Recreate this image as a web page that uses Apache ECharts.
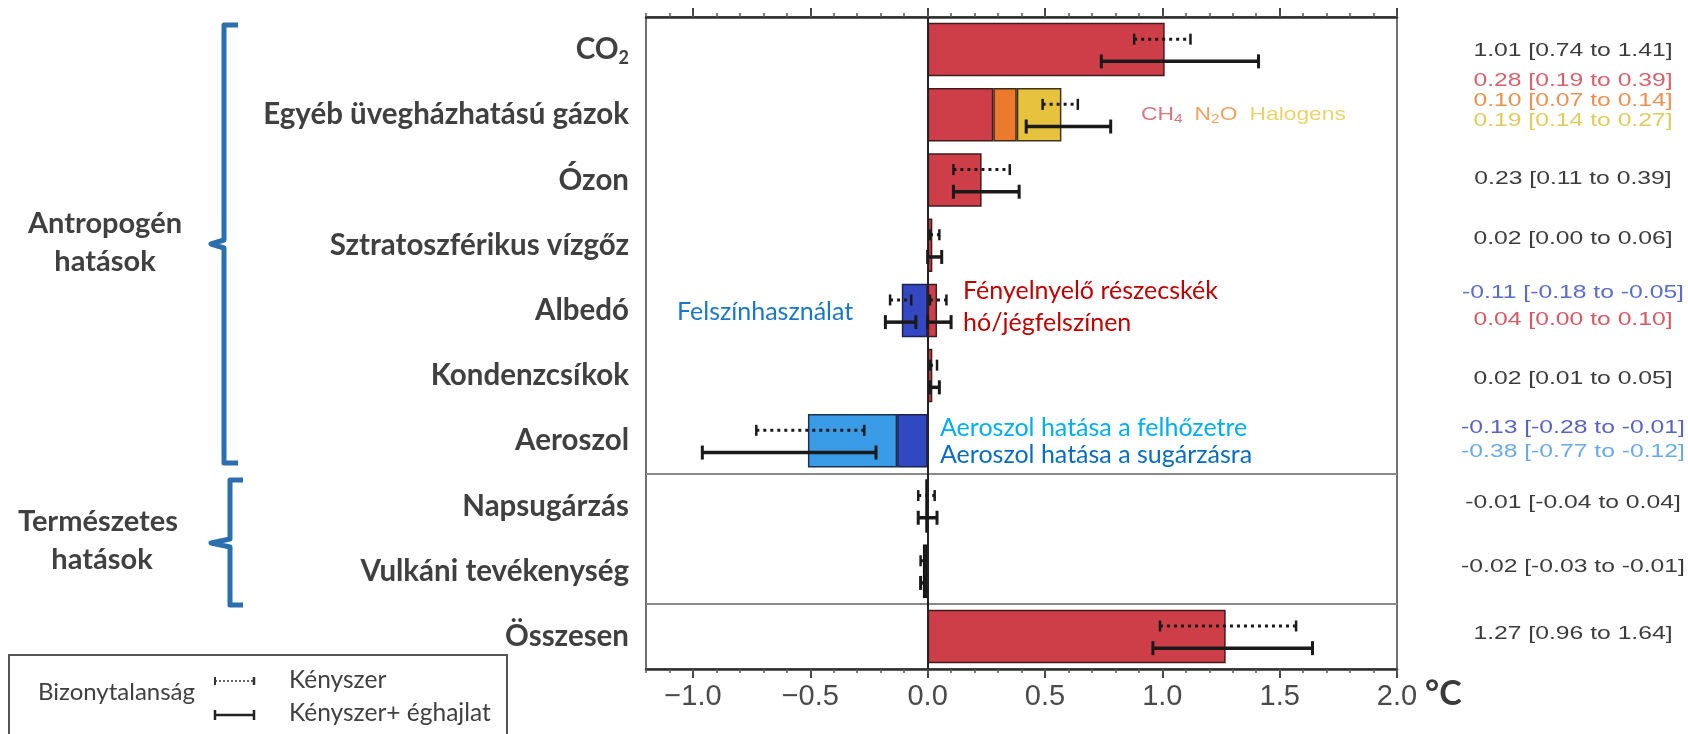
<!DOCTYPE html>
<html>
<head>
<meta charset="utf-8">
<script src="https://cdn.jsdelivr.net/npm/echarts@6/dist/echarts.min.js"></script>
<style>
  html, body { margin: 0; padding: 0; background: #ffffff; }
  #chart { width: 1688px; height: 734px; }
</style>
</head>
<body>
<div id="chart"></div>
<script>
// Sorok (felülről lefelé)
const categories = ['CO2', 'Egyéb üvegházhatású gázok', 'Ózon', 'Sztratoszférikus vízgőz', 'Albedó',
  'Kondenzcsíkok', 'Aeroszol', 'Napsugárzás', 'Vulkáni tevékenység', 'Összesen'];

// Hozzájárulás a melegedéshez (°C) – egy elem egy oszlopszelet
const segmentRow   = [0, 1, 1, 1, 2, 3, 4, 4, 5, 6, 6, 7, 8, 9];
const segmentKind  = ['warm', 'warm', 'n2o', 'halo', 'warm', 'warm', 'land', 'warm', 'warm', 'aerRad', 'aerCloud', 'natural', 'natural', 'warm'];
const segmentValue = [1.01, 0.28, 0.10, 0.19, 0.23, 0.02, -0.11, 0.04, 0.02, -0.13, -0.38, -0.01, -0.02, 1.27];
const segmentLow   = [0.74, 0.19, 0.07, 0.14, 0.11, 0.00, -0.18, 0.00, 0.01, -0.28, -0.77, -0.04, -0.03, 0.96];
const segmentHigh  = [1.41, 0.39, 0.14, 0.27, 0.39, 0.06, -0.05, 0.10, 0.05, -0.01, -0.12, 0.04, -0.01, 1.64];

// Bizonytalansági tartományok: csak kényszer (pontozott) és kényszer + éghajlat (folytonos)
const whiskerRow   = [0, 1, 2, 3, 4, 4, 5, 6, 7, 8, 9];
const forcingLow   = [0.88, 0.49, 0.11, 0.01, -0.16, 0.01, 0.01, -0.73, -0.04, -0.03, 0.99];
const forcingHigh  = [1.12, 0.64, 0.35, 0.05, -0.07, 0.08, 0.04, -0.27, 0.03, -0.01, 1.57];
const responseLow  = [0.74, 0.42, 0.11, 0.00, -0.18, 0.00, 0.01, -0.96, -0.04, -0.03, 0.96];
const responseHigh = [1.41, 0.78, 0.39, 0.06, -0.05, 0.10, 0.05, -0.22, 0.04, -0.01, 1.64];

// Tengelyfeliratok
const tickValues = [-1.0, -0.5, 0.0, 0.5, 1.0, 1.5, 2.0];
// Csoporthatárok (sorindex, amely előtt elválasztó vonal van)
const groupBreaks = [7, 9];

// ---- stílusok ----
const kindOrder = ['warm', 'n2o', 'halo', 'land', 'aerRad', 'aerCloud', 'natural'];
const kindStyle = {
  warm:     { color: '#CD3E48', border: '#3f1c1e' },
  n2o:      { color: '#EC7A2D', border: '#3f2a1c' },
  halo:     { color: '#E6C23E', border: '#3f351c' },
  land:     { color: '#3448C2', border: '#1d2350' },
  aerRad:   { color: '#3048C0', border: '#1d2350' },
  aerCloud: { color: '#3A9BE6', border: '#1d3350' },
  natural:  { color: '#222222', border: '#111111' }
};
const rangeTextColors = ['#3c3c3c', '#d4636d', '#ee9050', '#e0cc5e', '#3c3c3c', '#3c3c3c', '#5a6ccc', '#d45a65',
  '#3c3c3c', '#5a62c4', '#6aaae6', '#3c3c3c', '#3c3c3c', '#3c3c3c'];
const rowTextSpacing = { 1: 20, 4: 27, 6: 23.5 };
const rowTextShift = [1, -14, -1, -6, -4, 3, -1, -3, -4, -3];

const labelGray = '#404040';

function fmtTick(v) {
  return (v < 0 ? '\u2212' : '') + Math.abs(v).toFixed(1);
}
function fmt2(v) {
  return (v < 0 ? '-' : '') + Math.abs(v).toFixed(2);
}

const barSeries = kindOrder.map(function (kind, k) {
  const data = categories.map(function () { return '-'; });
  segmentKind.forEach(function (sk, i) {
    if (sk === kind) data[segmentRow[i]] = segmentValue[i];
  });
  const s = {
    type: 'bar',
    name: kind,
    stack: 'hatas',
    data: data,
    barWidth: '82%',
    itemStyle: { color: kindStyle[kind].color, borderColor: kindStyle[kind].border, borderWidth: 1.5 },
    silent: true,
    z: 2
  };
  if (k === 0) {
    s.markLine = {
      silent: true,
      symbol: 'none',
      label: { show: false },
      lineStyle: { color: '#222222', width: 2, type: 'solid' },
      data: [{ xAxis: 0 }],
      z: 3
    };
  }
  return s;
});

function renderWhisker(params, api) {
  const row = api.value(0);
  const band = api.size([0, 1])[1];
  const yc = api.coord([0, row])[1];
  const yd = yc - band * 0.16;
  const ys = yc + band * 0.18;
  const fl = api.coord([api.value(1), row])[0];
  const fh = api.coord([api.value(2), row])[0];
  const tl = api.coord([api.value(3), row])[0];
  const th = api.coord([api.value(4), row])[0];
  const ink = '#1a1a1a';
  const capD = 5.5, capS = 7;
  return {
    type: 'group',
    children: [
      { type: 'line', shape: { x1: fl, y1: yd, x2: fh, y2: yd }, style: { stroke: ink, lineWidth: 3, lineDash: [3, 4] } },
      { type: 'line', shape: { x1: fl, y1: yd - capD, x2: fl, y2: yd + capD }, style: { stroke: ink, lineWidth: 2.5 } },
      { type: 'line', shape: { x1: fh, y1: yd - capD, x2: fh, y2: yd + capD }, style: { stroke: ink, lineWidth: 2.5 } },
      { type: 'line', shape: { x1: tl, y1: ys, x2: th, y2: ys }, style: { stroke: ink, lineWidth: 3.5 } },
      { type: 'line', shape: { x1: tl, y1: ys - capS, x2: tl, y2: ys + capS }, style: { stroke: ink, lineWidth: 3 } },
      { type: 'line', shape: { x1: th, y1: ys - capS, x2: th, y2: ys + capS }, style: { stroke: ink, lineWidth: 3 } }
    ]
  };
}

const whiskerData = whiskerRow.map(function (r, i) {
  return [r, forcingLow[i], forcingHigh[i], responseLow[i], responseHigh[i]];
});

const axisBase = {
  type: 'value',
  min: -1.2,
  max: 2.0,
  splitLine: { show: false }
};

const option = {
  animation: false,
  backgroundColor: '#ffffff',
  grid: {
    left: 646, right: 291, top: 17, bottom: 65,
    show: true, borderColor: '#707070', borderWidth: 2, backgroundColor: 'transparent'
  },
  xAxis: [
    Object.assign({}, axisBase, {
      position: 'bottom',
      axisLine: { show: true, lineStyle: { color: '#2e2e2e', width: 2.5 } },
      axisTick: { show: true, customValues: tickValues, length: 9, lineStyle: { color: '#444', width: 2 } },
      axisLabel: {
        show: true, customValues: tickValues, margin: 13,
        formatter: fmtTick, color: '#4a4a4a', fontSize: 29, fontFamily: 'Liberation Sans'
      }
    }),
    Object.assign({}, axisBase, {
      position: 'bottom', interval: 0.1,
      axisLine: { show: false },
      axisTick: { show: true, length: 4, lineStyle: { color: '#555', width: 1.5 } },
      axisLabel: { show: false }
    }),
    Object.assign({}, axisBase, {
      position: 'top',
      axisLine: { show: true, lineStyle: { color: '#2e2e2e', width: 2.5 } },
      axisTick: { show: true, customValues: tickValues, length: 9, lineStyle: { color: '#444', width: 2 } },
      axisLabel: { show: false }
    }),
    Object.assign({}, axisBase, {
      position: 'top', interval: 0.1,
      axisLine: { show: false },
      axisTick: { show: true, length: 4, lineStyle: { color: '#555', width: 1.5 } },
      axisLabel: { show: false }
    })
  ],
  yAxis: {
    type: 'category',
    data: categories,
    inverse: true,
    axisLine: { show: false },
    axisTick: { show: false },
    splitLine: {
      show: true,
      interval: function (index) { return groupBreaks.indexOf(index) >= 0; },
      lineStyle: { color: '#8a8a8a', width: 2 }
    },
    axisLabel: {
      margin: 17,
      formatter: function (v) {
        return v === 'CO2' ? '{b|CO}{sub|2}' : '{b|' + v + '}';
      },
      rich: {
        b: { fontFamily: 'Lato', fontWeight: 'bold', fontSize: 29.5, color: labelGray },
        sub: { fontFamily: 'Lato', fontWeight: 'bold', fontSize: 18, color: labelGray, padding: [18, 0, 0, 0] }
      }
    }
  },
  series: barSeries.concat([{
    type: 'custom',
    name: 'whiskers',
    renderItem: renderWhisker,
    encode: { y: 0, x: [1, 2, 3, 4] },
    data: whiskerData,
    silent: true,
    z: 5
  }])
};

const chart = echarts.init(document.getElementById('chart'));
chart.setOption(option);

// ---- szöveges kiegészítések ----
const graphics = [];

// értékek és tartományok a jobb oldalon
const rowLines = {};
segmentRow.forEach(function (r, i) { (rowLines[r] = rowLines[r] || []).push(i); });
Object.keys(rowLines).forEach(function (key) {
  const r = Number(key);
  const lines = rowLines[r];
  const yc = chart.convertToPixel({ yAxisIndex: 0 }, categories[r]) + rowTextShift[r];
  const sp = rowTextSpacing[r] || 25;
  lines.forEach(function (i, k) {
    graphics.push({
      type: 'text',
      x: 1573,
      y: yc + (k - (lines.length - 1) / 2) * sp,
      scaleX: 1.3,
      style: {
        text: fmt2(segmentValue[i]) + ' [' + fmt2(segmentLow[i]) + ' to ' + fmt2(segmentHigh[i]) + ']',
        fill: rangeTextColors[i],
        font: '19px "Liberation Sans"',
        align: 'center',
        verticalAlign: 'middle'
      }
    });
  });
});

// gázok jelmagyarázata
graphics.push({
  type: 'text', x: 1141, y: 115, scaleX: 1.2,
  style: {
    text: '{c|CH}{cs|4}   {n|N}{ns|2}{n|O}   {h|Halogens}',
    verticalAlign: 'middle',
    rich: {
      c: { fill: '#d9767e', font: '19px "Liberation Sans"' },
      cs: { fill: '#d9767e', font: '13px "Liberation Sans"', padding: [9, 0, 0, 0] },
      n: { fill: '#f0a262', font: '19px "Liberation Sans"' },
      ns: { fill: '#f0a262', font: '13px "Liberation Sans"', padding: [9, 0, 0, 0] },
      h: { fill: '#ead36c', font: '19px "Liberation Sans"' }
    }
  }
});

function note(text, x, y, color) {
  graphics.push({
    type: 'text', x: x, y: y,
    style: { text: text, fill: color, font: '25px Lato', verticalAlign: 'middle' }
  });
}
note('Felszínhasználat', 677, 312, '#1a76c8');
note('Fényelnyelő részecskék', 963, 291, '#c00000');
note('hó/jégfelszínen', 963, 323, '#c00000');
note('Aeroszol hatása a felhőzetre', 940, 428, '#00aef0');
note('Aeroszol hatása a sugárzásra', 940, 455, '#0a6cc0');

// mértékegység
graphics.push({
  type: 'text', x: 1425, y: 694,
  style: { text: '°C', fill: '#3a3a3a', font: 'bold 34px Lato', verticalAlign: 'middle' }
});

// csoportok kapcsos zárójelei
function brace(x, top, mid, bottom, hook, tip) {
  graphics.push({
    type: 'polyline',
    shape: { points: [[x + hook, top], [x, top], [x, mid - 4], [tip, mid], [x, mid + 4], [x, bottom], [x + hook, bottom]] },
    style: { stroke: '#2a6fae', lineWidth: 5, fill: null, lineJoin: 'round' }
  });
}
brace(224, 25, 244, 463, 14, 211);
brace(230, 480, 543, 605, 13, 211);

function groupLabel(text, x, y) {
  graphics.push({
    type: 'text', x: x, y: y,
    style: { text: text, fill: labelGray, font: 'bold 29px Lato', align: 'center', verticalAlign: 'middle' }
  });
}
groupLabel('Antropogén', 105, 224);
groupLabel('hatások', 105, 262);
groupLabel('Természetes', 98, 522);
groupLabel('hatások', 102, 560);

// bizonytalanság jelmagyarázata
graphics.push({
  type: 'rect', shape: { x: 9, y: 655, width: 498, height: 100 },
  style: { stroke: '#555555', lineWidth: 2, fill: null }
});
graphics.push({
  type: 'text', x: 38, y: 692,
  style: { text: 'Bizonytalanság', fill: labelGray, font: '24px Lato', verticalAlign: 'middle' }
});
graphics.push({ type: 'line', shape: { x1: 215, y1: 681, x2: 254, y2: 681 }, style: { stroke: '#333', lineWidth: 1.5, lineDash: [2, 2] } });
graphics.push({ type: 'line', shape: { x1: 215, y1: 677, x2: 215, y2: 685 }, style: { stroke: '#333', lineWidth: 2 } });
graphics.push({ type: 'line', shape: { x1: 254, y1: 677, x2: 254, y2: 685 }, style: { stroke: '#333', lineWidth: 2.5 } });
graphics.push({ type: 'line', shape: { x1: 215, y1: 715, x2: 254, y2: 715 }, style: { stroke: '#222', lineWidth: 2.5 } });
graphics.push({ type: 'line', shape: { x1: 215, y1: 710, x2: 215, y2: 720 }, style: { stroke: '#222', lineWidth: 2.5 } });
graphics.push({ type: 'line', shape: { x1: 254, y1: 710, x2: 254, y2: 720 }, style: { stroke: '#222', lineWidth: 2.5 } });
graphics.push({
  type: 'text', x: 289, y: 680,
  style: { text: 'Kényszer', fill: labelGray, font: '24.5px Lato', verticalAlign: 'middle' }
});
graphics.push({
  type: 'text', x: 289, y: 713,
  style: { text: 'Kényszer+ éghajlat', fill: labelGray, font: '24.5px Lato', verticalAlign: 'middle' }
});

chart.setOption({ graphic: { elements: graphics } });
</script>
</body>
</html>
